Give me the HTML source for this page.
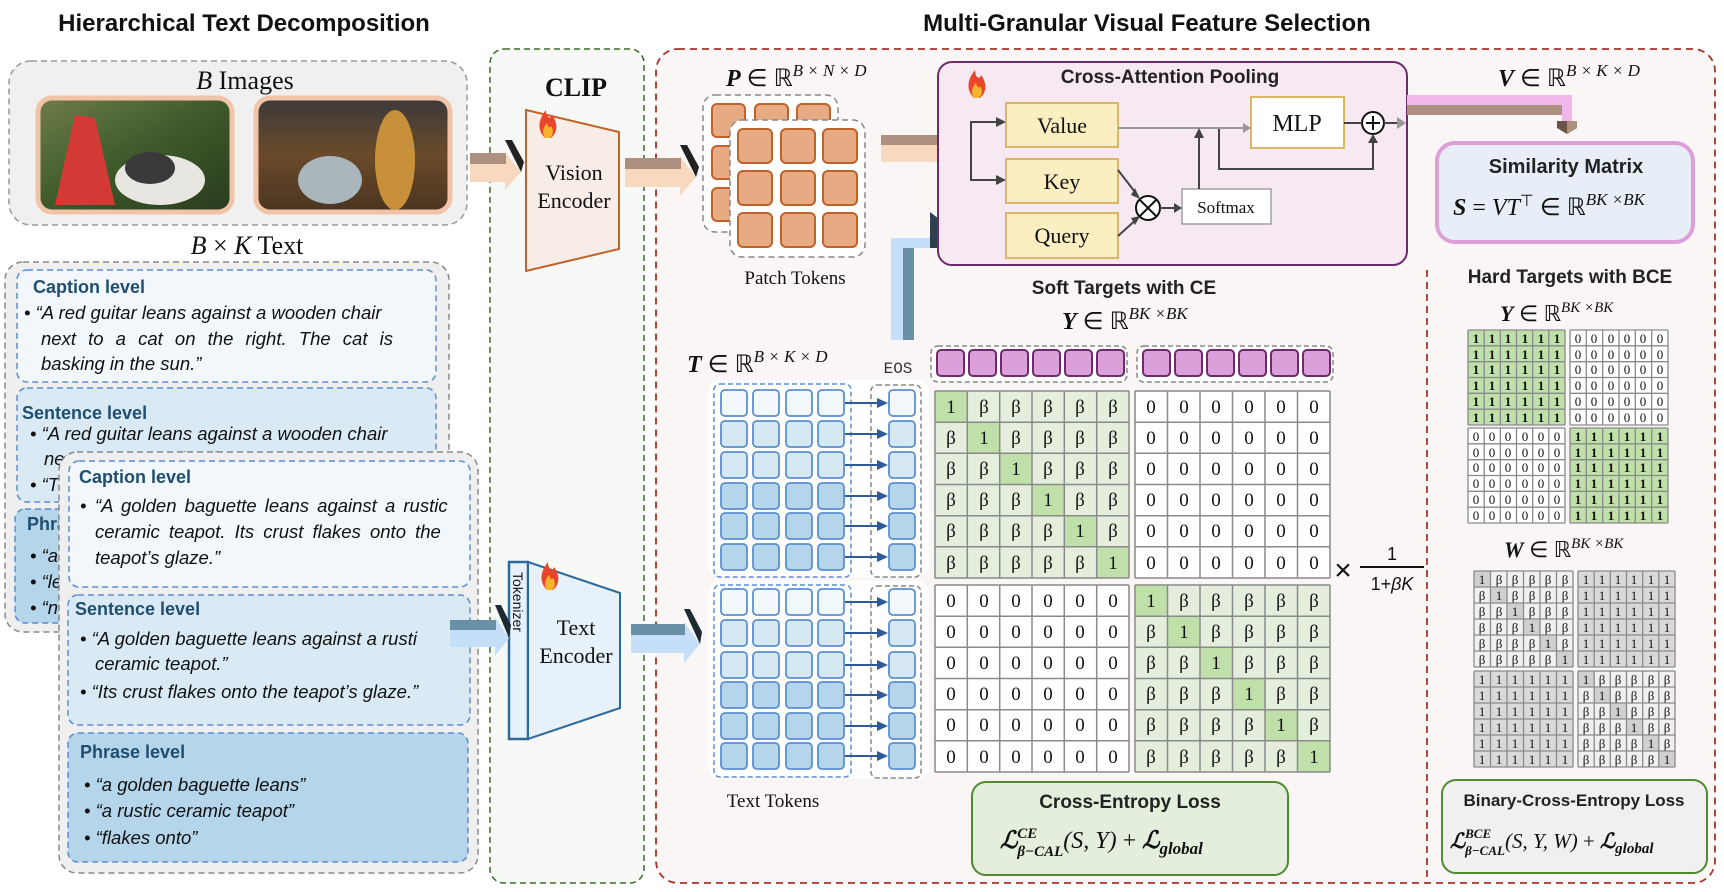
<!DOCTYPE html>
<html><head><meta charset="utf-8"><style>
html,body{margin:0;padding:0;background:#fff}
svg{display:block}
.t{font-family:"Liberation Sans",sans-serif}
.s{font-family:"Liberation Serif",serif}
.it{font-family:"Liberation Sans",sans-serif;font-style:italic;font-size:18.5px;fill:#111}
.lv{font-family:"Liberation Sans",sans-serif;font-weight:bold;font-size:18px;fill:#1f4e6e}
</style></head><body>
<svg width="1724" height="892" viewBox="0 0 1724 892" xmlns="http://www.w3.org/2000/svg">
<defs>
<linearGradient id="g1" x1="0" y1="0" x2="1" y2="1"><stop offset="0" stop-color="#6f7d4a"/><stop offset="0.5" stop-color="#3d5a2a"/><stop offset="1" stop-color="#2a3a1e"/></linearGradient>
<linearGradient id="g2" x1="0" y1="0" x2="0" y2="1"><stop offset="0" stop-color="#3a3a3a"/><stop offset="0.5" stop-color="#6a4a2a"/><stop offset="1" stop-color="#4a3420"/></linearGradient>
</defs>

<text x="244" y="31" text-anchor="middle" class="t" font-weight="bold" font-size="24" fill="#111">Hierarchical Text Decomposition</text>
<text x="1147" y="31" text-anchor="middle" class="t" font-weight="bold" font-size="24" fill="#111">Multi-Granular Visual Feature Selection</text>

<rect x="9" y="61" width="458" height="164" rx="22" fill="#f0f0f0" stroke="#999" stroke-width="1.5" stroke-dasharray="6,4"/>
<text x="245" y="89" text-anchor="middle" class="s" font-size="26" fill="#111"><tspan font-style="italic">B</tspan> Images</text>
<rect x="38" y="98" width="194" height="114" rx="14" fill="url(#g1)" stroke="#f1c4a8" stroke-width="5"/>
<path d="M55 205 L75 115 L95 118 L115 205 Z" fill="#d43a35"/>
<ellipse cx="160" cy="180" rx="45" ry="25" fill="#e8e6e0"/>
<ellipse cx="150" cy="168" rx="25" ry="16" fill="#3a3a3a"/>
<rect x="256" y="98" width="194" height="114" rx="14" fill="url(#g2)" stroke="#f1c4a8" stroke-width="5"/>
<ellipse cx="330" cy="180" rx="32" ry="24" fill="#a9b7bc"/>
<ellipse cx="395" cy="160" rx="20" ry="50" fill="#c8903a"/>
<text x="247" y="254" text-anchor="middle" class="s" font-size="26" fill="#111"><tspan font-style="italic">B</tspan> × <tspan font-style="italic">K</tspan>  Text</text>

<!-- back text box -->
<rect x="5" y="262" width="444" height="370" rx="18" fill="#efefef" stroke="#888" stroke-width="1.5" stroke-dasharray="6,4"/>
<rect x="17" y="270" width="419" height="112" rx="10" fill="#f2f7fc" stroke="#5b8fd0" stroke-width="1.5" stroke-dasharray="6,4"/>
<text x="33" y="293" class="lv">Caption level</text>
<text x="24" y="319" class="it">• “A red guitar leans against a wooden chair</text>
<text x="41" y="345" class="it" word-spacing="7">next to a cat on the right. The cat is</text>
<text x="41" y="370" class="it">basking in the sun.”</text>
<rect x="17" y="388" width="419" height="114" rx="10" fill="#d9eaf5" stroke="#5b8fd0" stroke-width="1.5" stroke-dasharray="6,4"/>
<text x="22" y="419" class="lv">Sentence level</text>
<text x="30" y="440" class="it">• “A red guitar leans against a wooden chair</text>
<text x="44" y="465" class="it">next to a cat on the right.”</text>
<text x="30" y="491" class="it">• “The cat is basking in the sun.”</text>
<rect x="15" y="509" width="419" height="114" rx="10" fill="#b4d5ea" stroke="#5b8fd0" stroke-width="1.5" stroke-dasharray="6,4"/>
<text x="27" y="530" class="lv">Phrase level</text>
<text x="30" y="562" class="it">• “a red guitar”</text>
<text x="30" y="588" class="it">• “leans against”</text>
<text x="30" y="614" class="it">• “next to a cat”</text>

<!-- front text box -->
<rect x="59" y="452" width="419" height="421" rx="18" fill="#efefef" stroke="#888" stroke-width="1.5" stroke-dasharray="6,4"/>
<rect x="69" y="461" width="401" height="126" rx="10" fill="#f2f7fc" stroke="#5b8fd0" stroke-width="1.5" stroke-dasharray="6,4"/>
<text x="79" y="483" class="lv">Caption level</text>
<text x="80" y="512" class="it">•</text>
<text x="95" y="512" class="it" word-spacing="3">“A golden baguette leans against a rustic</text>
<text x="95" y="538" class="it" word-spacing="4">ceramic teapot. Its crust flakes onto the</text>
<text x="95" y="564" class="it">teapot’s glaze.”</text>
<rect x="68" y="595" width="402" height="130" rx="10" fill="#d9eaf5" stroke="#5b8fd0" stroke-width="1.5" stroke-dasharray="6,4"/>
<text x="75" y="615" class="lv">Sentence level</text>
<text x="80" y="645" class="it">• “A golden baguette leans against a rusti</text>
<text x="95" y="670" class="it">ceramic teapot.”</text>
<text x="80" y="698" class="it">• “Its crust flakes onto the teapot’s glaze.”</text>
<rect x="68" y="733" width="400" height="129" rx="10" fill="#b4d5ea" stroke="#5b8fd0" stroke-width="1.5" stroke-dasharray="6,4"/>
<text x="80" y="758" class="lv">Phrase level</text>
<text x="84" y="791" class="it">• “a golden baguette leans”</text>
<text x="84" y="817" class="it">• “a rustic ceramic teapot”</text>
<text x="84" y="844" class="it">• “flakes onto”</text>

<!-- CLIP box -->
<rect x="490" y="49" width="154" height="834" rx="14" fill="#f6f9f5" stroke="#3a6a2a" stroke-width="1.5" stroke-dasharray="6,4"/>
<text x="576" y="96" text-anchor="middle" class="s" font-weight="bold" font-size="26" fill="#111">CLIP</text>
<polygon points="526,110 619,132 619,249 526,271" fill="#f8ece6" stroke="#c0622a" stroke-width="2"/>
<path d="M545 138 C537 130 538 120 546 110 C546 118 551 120 552 115 C558 123 558 132 551 138 Z" fill="#e8452a"/>
<path d="M545 138 C541 132 544 126 547 123 C548 128 551 128 551 126 C554 130 553 136 550 138 Z" fill="#f7b32b"/>
<text x="574" y="180" text-anchor="middle" class="s" font-size="22" fill="#111">Vision</text>
<text x="574" y="208" text-anchor="middle" class="s" font-size="22" fill="#111">Encoder</text>
<rect x="509" y="562" width="19" height="177" fill="#e6f1f9" stroke="#2e6a99" stroke-width="2.5"/>
<text transform="translate(513,572) rotate(90)" class="t" font-size="14" fill="#111">Tokenizer</text>
<polygon points="528,562 620,593 620,708 528,739" fill="#e6f1f9" stroke="#2e6a99" stroke-width="2"/>
<path d="M547 590 C539 582 540 572 548 562 C548 570 553 572 554 567 C560 575 560 584 553 590 Z" fill="#e8452a"/>
<path d="M547 590 C543 584 546 578 549 575 C550 580 553 580 553 578 C556 582 555 588 552 590 Z" fill="#f7b32b"/>
<text x="576" y="635" text-anchor="middle" class="s" font-size="22" fill="#111">Text</text>
<text x="576" y="663" text-anchor="middle" class="s" font-size="22" fill="#111">Encoder</text>

<!-- red box -->
<rect x="656" y="49" width="1059" height="834" rx="22" fill="#faf6f5" stroke="#a3352a" stroke-width="1.8" stroke-dasharray="7,5"/>
<line x1="1427" y1="270" x2="1427" y2="883" stroke="#a3352a" stroke-width="1.8" stroke-dasharray="7,5"/>

<g>
<polygon points="470,163 505,163 505,152 521,172 505,190 505,182 470,182" fill="#f8d9c0"/>
<rect x="470" y="153" width="36" height="11" fill="#ad9080"/>
<polygon points="505,140 512,140 524,162 521,172" fill="#222"/>
<polygon points="625,168 680,168 680,156 696,177 680,196 680,187 625,187" fill="#f8d9c0"/>
<rect x="625" y="158" width="56" height="11" fill="#ad9080"/>
<polygon points="680,145 687,145 699,167 696,177" fill="#222"/>
<polygon points="881,143 955,143 955,132 970,152 955,170 955,162 881,162" fill="#f8d9c0"/>
<rect x="881" y="135" width="75" height="10" fill="#ad9080"/>
<polygon points="955,128 961,128 972,145 970,152" fill="#222"/>
<polygon points="450,629 495,629 495,617 509,638 495,656 495,647 450,647" fill="#c5dff8"/>
<rect x="450" y="620" width="46" height="10" fill="#6a90a8"/>
<polygon points="495,605 501,605 511,625 509,638" fill="#1e2a33"/>
<polygon points="631,634 684,634 684,622 700,644 684,663 684,653 631,653" fill="#c5dff8"/>
<rect x="631" y="624" width="54" height="11" fill="#6a90a8"/>
<polygon points="684,609 690,609 702,632 700,644" fill="#1e2a33"/>
<rect x="891" y="238" width="12" height="102" fill="#c5dff8"/>
<rect x="903" y="238" width="11" height="102" fill="#6a90a8"/>
<polygon points="891,238 930,238 930,212 953,230 938,248 891,248" fill="#c5dff8"/>
<polygon points="930,212 953,230 938,248 930,248" fill="#2e3f4d"/>
</g>

<text x="726" y="86" class="s" font-size="24" fill="#111"><tspan font-weight="bold" font-style="italic">P</tspan> ∈ ℝ<tspan font-style="italic" font-size="17" dy="-10">B × N × D</tspan></text>
<rect x="703" y="95" width="135" height="137" rx="12" fill="#fff" stroke="#888" stroke-width="1.5" stroke-dasharray="6,4"/>
<g fill="#e7ab84" stroke="#c0622a" stroke-width="2">
<rect x="712" y="104" width="33" height="33" rx="5"/><rect x="755" y="104" width="33" height="33" rx="5"/><rect x="797" y="104" width="33" height="33" rx="5"/>
<rect x="712" y="146" width="33" height="33" rx="5"/><rect x="712" y="188" width="33" height="33" rx="5"/>
</g>
<rect x="730" y="120" width="135" height="137" rx="12" fill="#fff" stroke="#888" stroke-width="1.5" stroke-dasharray="6,4"/>
<g fill="#e7ab84" stroke="#c0622a" stroke-width="2">
<rect x="738" y="129" width="34" height="34" rx="5"/><rect x="781" y="129" width="34" height="34" rx="5"/><rect x="823" y="129" width="34" height="34" rx="5"/>
<rect x="738" y="171" width="34" height="34" rx="5"/><rect x="781" y="171" width="34" height="34" rx="5"/><rect x="823" y="171" width="34" height="34" rx="5"/>
<rect x="738" y="213" width="34" height="34" rx="5"/><rect x="781" y="213" width="34" height="34" rx="5"/><rect x="823" y="213" width="34" height="34" rx="5"/>
</g>
<text x="795" y="284" text-anchor="middle" class="s" font-size="19" fill="#111">Patch Tokens</text>

<rect x="938" y="62" width="469" height="203" rx="14" fill="#f6e9f2" stroke="#6d2a6d" stroke-width="2"/>
<path d="M974 98 C966 90 967 80 975 70 C975 78 980 80 981 75 C987 83 987 92 980 98 Z" fill="#e8452a"/>
<path d="M974 98 C970 92 973 86 976 83 C977 88 980 88 980 86 C983 90 982 96 979 98 Z" fill="#f7b32b"/>
<text x="1170" y="83" text-anchor="middle" class="t" font-weight="bold" font-size="19" fill="#222">Cross-Attention Pooling</text>
<g fill="#fbefc1" stroke="#d9b865" stroke-width="2">
<rect x="1006" y="103" width="112" height="44"/><rect x="1006" y="159" width="112" height="44"/><rect x="1006" y="213" width="112" height="45"/>
</g>
<g class="s" font-size="22" fill="#111" text-anchor="middle">
<text x="1062" y="133">Value</text><text x="1062" y="189">Key</text><text x="1062" y="243">Query</text>
</g>
<rect x="1251" y="97" width="93" height="51" fill="#fff" stroke="#d9b865" stroke-width="2"/>
<text x="1297" y="131" text-anchor="middle" class="s" font-size="24" fill="#111">MLP</text>
<rect x="1182" y="189" width="89" height="35" fill="#fff" stroke="#777" stroke-width="1"/>
<text x="1226" y="213" text-anchor="middle" class="s" font-size="17" fill="#111">Softmax</text>
<circle cx="1148" cy="208" r="12" fill="#fff" stroke="#111" stroke-width="2"/>
<path d="M1140 200 L1156 216 M1156 200 L1140 216" stroke="#111" stroke-width="2"/>
<circle cx="1373" cy="123" r="11" fill="#fff" stroke="#111" stroke-width="2"/>
<path d="M1366 123 H1380 M1373 116 V130" stroke="#111" stroke-width="2"/>
<g stroke="#444" stroke-width="2" fill="none">
<path d="M971 147 V122 H1000 M971 147 V180 H1000"/>
<path d="M1118 170 L1138 196 M1118 236 L1138 218"/>
<path d="M1160 208 H1176"/>
<path d="M1199 189 V134"/>
<path d="M1219 128 V169 H1373 V138"/>
<path d="M1344 123 H1362 M1384 123 H1398"/>
</g>
<path d="M1118 128 H1244" stroke="#999" stroke-width="2"/>
<g fill="#444">
<polygon points="1006,122 996,117 996,127"/><polygon points="1006,180 996,175 996,185"/>
<polygon points="1140,199 1131,195 1135,188"/><polygon points="1140,216 1135,225 1131,218"/>
<polygon points="1182,208 1174,203 1174,213"/><polygon points="1199,128 1194,138 1204,138"/>
<polygon points="1373,134 1368,143 1378,143"/>
</g>
<polygon points="1251,128 1243,123 1243,133" fill="#999"/>
<polygon points="1406,123 1397,117 1397,129" fill="#999"/>

<text x="1498" y="86" class="s" font-size="24" fill="#111"><tspan font-weight="bold" font-style="italic">V</tspan> ∈ ℝ<tspan font-style="italic" font-size="17" dy="-10">B × K × D</tspan></text>
<rect x="1407" y="95" width="165" height="10" fill="#f0b8ea"/>
<rect x="1407" y="105" width="155" height="10" fill="#ad9080"/>
<rect x="1562" y="95" width="10" height="26" fill="#f0b8ea"/>
<polygon points="1557,121 1577,121 1577,128 1567,134 1557,128" fill="#6b5345"/>
<polygon points="1567,121 1577,121 1577,128 1567,134" fill="#ad9080"/>
<rect x="1437" y="143" width="256" height="99" rx="18" fill="#e8eef8" stroke="#dc9fd8" stroke-width="4"/>
<text x="1566" y="173" text-anchor="middle" class="t" font-weight="bold" font-size="20" fill="#222">Similarity Matrix</text>
<text x="1453" y="215" class="s" font-size="24" fill="#111"><tspan font-weight="bold" font-style="italic">S</tspan> =  <tspan font-style="italic">VT</tspan><tspan font-size="16" dy="-9">⊤</tspan><tspan dy="9"> ∈ ℝ</tspan><tspan font-style="italic" font-size="17" dy="-10">BK ×BK</tspan></text>

<text x="687" y="372" class="s" font-size="24" fill="#111"><tspan font-weight="bold" font-style="italic">T</tspan> ∈ ℝ<tspan font-style="italic" font-size="17" dy="-10">B × K × D</tspan></text>
<text x="898" y="373" text-anchor="middle" font-size="16" fill="#333" font-family="Liberation Mono">EOS</text>
<rect x="708" y="380" width="221" height="197" rx="12" fill="#fff"/>
<rect x="708" y="581" width="221" height="198" rx="12" fill="#fff"/>
<rect x="714" y="384" width="137" height="193" rx="6" fill="none" stroke="#5b8fd0" stroke-width="1.5" stroke-dasharray="5,3"/>
<rect x="714" y="585" width="137" height="192" rx="6" fill="none" stroke="#5b8fd0" stroke-width="1.5" stroke-dasharray="5,3"/>
<rect x="871" y="385" width="50" height="192" rx="6" fill="none" stroke="#888" stroke-width="1.5" stroke-dasharray="5,3"/>
<rect x="871" y="586" width="50" height="192" rx="6" fill="none" stroke="#888" stroke-width="1.5" stroke-dasharray="5,3"/>
<g stroke="#5b8fd0" stroke-width="1.8">
<g fill="#f2f7fc"><rect x="721" y="390" width="26" height="26" rx="4"/><rect x="753" y="390" width="26" height="26" rx="4"/><rect x="786" y="390" width="26" height="26" rx="4"/><rect x="818" y="390" width="26" height="26" rx="4"/><rect x="889" y="390" width="26" height="26" rx="4"/>
<rect x="721" y="589" width="26" height="26" rx="4"/><rect x="753" y="589" width="26" height="26" rx="4"/><rect x="786" y="589" width="26" height="26" rx="4"/><rect x="818" y="589" width="26" height="26" rx="4"/><rect x="889" y="589" width="26" height="26" rx="4"/></g>
<g fill="#d6e8f4"><rect x="721" y="421" width="26" height="26" rx="4"/><rect x="753" y="421" width="26" height="26" rx="4"/><rect x="786" y="421" width="26" height="26" rx="4"/><rect x="818" y="421" width="26" height="26" rx="4"/><rect x="889" y="421" width="26" height="26" rx="4"/>
<rect x="721" y="452" width="26" height="26" rx="4"/><rect x="753" y="452" width="26" height="26" rx="4"/><rect x="786" y="452" width="26" height="26" rx="4"/><rect x="818" y="452" width="26" height="26" rx="4"/><rect x="889" y="452" width="26" height="26" rx="4"/>
<rect x="721" y="620" width="26" height="26" rx="4"/><rect x="753" y="620" width="26" height="26" rx="4"/><rect x="786" y="620" width="26" height="26" rx="4"/><rect x="818" y="620" width="26" height="26" rx="4"/><rect x="889" y="620" width="26" height="26" rx="4"/>
<rect x="721" y="652" width="26" height="26" rx="4"/><rect x="753" y="652" width="26" height="26" rx="4"/><rect x="786" y="652" width="26" height="26" rx="4"/><rect x="818" y="652" width="26" height="26" rx="4"/><rect x="889" y="652" width="26" height="26" rx="4"/></g>
<g fill="#b4d5ea"><rect x="721" y="483" width="26" height="26" rx="4"/><rect x="753" y="483" width="26" height="26" rx="4"/><rect x="786" y="483" width="26" height="26" rx="4"/><rect x="818" y="483" width="26" height="26" rx="4"/><rect x="889" y="483" width="26" height="26" rx="4"/>
<rect x="721" y="513" width="26" height="26" rx="4"/><rect x="753" y="513" width="26" height="26" rx="4"/><rect x="786" y="513" width="26" height="26" rx="4"/><rect x="818" y="513" width="26" height="26" rx="4"/><rect x="889" y="513" width="26" height="26" rx="4"/>
<rect x="721" y="544" width="26" height="26" rx="4"/><rect x="753" y="544" width="26" height="26" rx="4"/><rect x="786" y="544" width="26" height="26" rx="4"/><rect x="818" y="544" width="26" height="26" rx="4"/><rect x="889" y="544" width="26" height="26" rx="4"/>
<rect x="721" y="682" width="26" height="26" rx="4"/><rect x="753" y="682" width="26" height="26" rx="4"/><rect x="786" y="682" width="26" height="26" rx="4"/><rect x="818" y="682" width="26" height="26" rx="4"/><rect x="889" y="682" width="26" height="26" rx="4"/>
<rect x="721" y="713" width="26" height="26" rx="4"/><rect x="753" y="713" width="26" height="26" rx="4"/><rect x="786" y="713" width="26" height="26" rx="4"/><rect x="818" y="713" width="26" height="26" rx="4"/><rect x="889" y="713" width="26" height="26" rx="4"/>
<rect x="721" y="743" width="26" height="26" rx="4"/><rect x="753" y="743" width="26" height="26" rx="4"/><rect x="786" y="743" width="26" height="26" rx="4"/><rect x="818" y="743" width="26" height="26" rx="4"/><rect x="889" y="743" width="26" height="26" rx="4"/></g>
</g>
<g stroke="#2e5a99" stroke-width="2"><path d="M845 403 H878 M845 434 H878 M845 465 H878 M845 496 H878 M845 526 H878 M845 557 H878 M845 602 H878 M845 633 H878 M845 665 H878 M845 695 H878 M845 726 H878 M845 756 H878"/></g>
<g fill="#2e5a99">
<polygon points="888,403 877,398 877,408"/><polygon points="888,434 877,429 877,439"/><polygon points="888,465 877,460 877,470"/><polygon points="888,496 877,491 877,501"/><polygon points="888,526 877,521 877,531"/><polygon points="888,557 877,552 877,562"/>
<polygon points="888,602 877,597 877,607"/><polygon points="888,633 877,628 877,638"/><polygon points="888,665 877,660 877,670"/><polygon points="888,695 877,690 877,700"/><polygon points="888,726 877,721 877,731"/><polygon points="888,756 877,751 877,761"/>
</g>
<text x="773" y="807" text-anchor="middle" class="s" font-size="19" fill="#111">Text Tokens</text>

<text x="1124" y="294" text-anchor="middle" class="t" font-weight="bold" font-size="19" fill="#222">Soft Targets with CE</text>
<text x="1062" y="329" class="s" font-size="24" fill="#111"><tspan font-weight="bold" font-style="italic">Y</tspan> ∈ ℝ<tspan font-style="italic" font-size="17" dy="-10">BK ×BK</tspan></text>
<rect x="931" y="346" width="196" height="36" rx="7" fill="#fff" stroke="#888" stroke-width="1.5" stroke-dasharray="5,3"/>
<rect x="1137" y="346" width="196" height="36" rx="7" fill="#fff" stroke="#888" stroke-width="1.5" stroke-dasharray="5,3"/>
<g fill="#dba0da" stroke="#6d2a6d" stroke-width="2">
<rect x="937" y="350" width="27" height="26" rx="4"/><rect x="969" y="350" width="27" height="26" rx="4"/><rect x="1001" y="350" width="27" height="26" rx="4"/><rect x="1033" y="350" width="27" height="26" rx="4"/><rect x="1065" y="350" width="27" height="26" rx="4"/><rect x="1097" y="350" width="27" height="26" rx="4"/>
<rect x="1143" y="350" width="27" height="26" rx="4"/><rect x="1175" y="350" width="27" height="26" rx="4"/><rect x="1207" y="350" width="27" height="26" rx="4"/><rect x="1239" y="350" width="27" height="26" rx="4"/><rect x="1271" y="350" width="27" height="26" rx="4"/><rect x="1303" y="350" width="27" height="26" rx="4"/>
</g>
<rect x="935" y="391" width="194" height="187" fill="#e3efdc"/>
<rect x="1135" y="391" width="195" height="187" fill="#fff"/>
<rect x="935" y="585" width="194" height="187" fill="#fff"/>
<rect x="1135" y="585" width="195" height="187" fill="#e3efdc"/>
<g fill="#bfe0a8">
<rect x="935" y="391" width="32.3" height="31.2"/><rect x="967.3" y="422.2" width="32.3" height="31.2"/><rect x="999.7" y="453.3" width="32.3" height="31.2"/><rect x="1032" y="484.5" width="32.3" height="31.2"/><rect x="1064.3" y="515.7" width="32.3" height="31.2"/><rect x="1096.7" y="546.8" width="32.3" height="31.2"/>
<rect x="1135" y="585" width="32.5" height="31.2"/><rect x="1167.5" y="616.2" width="32.5" height="31.2"/><rect x="1200" y="647.3" width="32.5" height="31.2"/><rect x="1232.5" y="678.5" width="32.5" height="31.2"/><rect x="1265" y="709.7" width="32.5" height="31.2"/><rect x="1297.5" y="740.8" width="32.5" height="31.2"/>
</g>
<g stroke="#8a8a8a" stroke-width="1.5" fill="none">
<path d="M935 391 V578 M967.3 391 V578 M999.7 391 V578 M1032 391 V578 M1064.3 391 V578 M1096.7 391 V578 M1129 391 V578 M935 391 H1129 M935 422.2 H1129 M935 453.3 H1129 M935 484.5 H1129 M935 515.7 H1129 M935 546.8 H1129 M935 578 H1129"/>
<path d="M935 585 V772 M967.3 585 V772 M999.7 585 V772 M1032 585 V772 M1064.3 585 V772 M1096.7 585 V772 M1129 585 V772 M935 585 H1129 M935 616.2 H1129 M935 647.3 H1129 M935 678.5 H1129 M935 709.7 H1129 M935 740.8 H1129 M935 772 H1129"/>
<path d="M1135 391 V578 M1167.5 391 V578 M1200 391 V578 M1232.5 391 V578 M1265 391 V578 M1297.5 391 V578 M1330 391 V578 M1135 391 H1330 M1135 422.2 H1330 M1135 453.3 H1330 M1135 484.5 H1330 M1135 515.7 H1330 M1135 546.8 H1330 M1135 578 H1330"/>
<path d="M1135 585 V772 M1167.5 585 V772 M1200 585 V772 M1232.5 585 V772 M1265 585 V772 M1297.5 585 V772 M1330 585 V772 M1135 585 H1330 M1135 616.2 H1330 M1135 647.3 H1330 M1135 678.5 H1330 M1135 709.7 H1330 M1135 740.8 H1330 M1135 772 H1330"/>
</g>
<g class="s" font-size="19" fill="#111" text-anchor="middle">
<text x="951 984 1016 1048 1080 1113" y="413">1βββββ</text>
<text x="951 984 1016 1048 1080 1113" y="444">β1ββββ</text>
<text x="951 984 1016 1048 1080 1113" y="475">ββ1βββ</text>
<text x="951 984 1016 1048 1080 1113" y="506">βββ1ββ</text>
<text x="951 984 1016 1048 1080 1113" y="537">ββββ1β</text>
<text x="951 984 1016 1048 1080 1113" y="569">βββββ1</text>
<text x="1151 1184 1216 1249 1281 1314" y="607">1βββββ</text>
<text x="1151 1184 1216 1249 1281 1314" y="638">β1ββββ</text>
<text x="1151 1184 1216 1249 1281 1314" y="669">ββ1βββ</text>
<text x="1151 1184 1216 1249 1281 1314" y="700">βββ1ββ</text>
<text x="1151 1184 1216 1249 1281 1314" y="731">ββββ1β</text>
<text x="1151 1184 1216 1249 1281 1314" y="763">βββββ1</text>
<text x="1151 1184 1216 1249 1281 1314" y="413">000000</text>
<text x="1151 1184 1216 1249 1281 1314" y="444">000000</text>
<text x="1151 1184 1216 1249 1281 1314" y="475">000000</text>
<text x="1151 1184 1216 1249 1281 1314" y="506">000000</text>
<text x="1151 1184 1216 1249 1281 1314" y="537">000000</text>
<text x="1151 1184 1216 1249 1281 1314" y="569">000000</text>
<text x="951 984 1016 1048 1080 1113" y="607">000000</text>
<text x="951 984 1016 1048 1080 1113" y="638">000000</text>
<text x="951 984 1016 1048 1080 1113" y="669">000000</text>
<text x="951 984 1016 1048 1080 1113" y="700">000000</text>
<text x="951 984 1016 1048 1080 1113" y="731">000000</text>
<text x="951 984 1016 1048 1080 1113" y="763">000000</text>
</g>
<text x="1343" y="580" text-anchor="middle" class="t" font-size="30" fill="#111">×</text>
<text x="1392" y="560" text-anchor="middle" class="t" font-size="18" fill="#111">1</text>
<line x1="1360" y1="567" x2="1424" y2="567" stroke="#111" stroke-width="2"/>
<text x="1392" y="590" text-anchor="middle" class="t" font-size="18" fill="#111">1+<tspan font-style="italic">βK</tspan></text>

<rect x="972" y="782" width="316" height="93" rx="14" fill="#e3efdc" stroke="#4f8a30" stroke-width="2"/>
<text x="1130" y="808" text-anchor="middle" class="t" font-weight="bold" font-size="19" fill="#222">Cross-Entropy Loss</text>
<text x="1000" y="848" class="s" font-size="24" fill="#111"><tspan font-weight="bold" font-style="italic">ℒ</tspan><tspan font-weight="bold" font-style="italic" font-size="15" dy="-10">CE</tspan><tspan font-weight="bold" font-style="italic" font-size="15" dx="-20" dy="18">β−CAL</tspan><tspan font-style="italic" dy="-8">(S, Y)</tspan> + <tspan font-weight="bold" font-style="italic">ℒ</tspan><tspan font-weight="bold" font-style="italic" font-size="17" dy="6">global</tspan></text>

<text x="1570" y="283" text-anchor="middle" class="t" font-weight="bold" font-size="19" fill="#222">Hard Targets with BCE</text>
<text x="1500" y="321" class="s" font-size="22" fill="#111"><tspan font-weight="bold" font-style="italic">Y</tspan> ∈ ℝ<tspan font-style="italic" font-size="15" dy="-9">BK ×BK</tspan></text>
<rect x="1468" y="330" width="97" height="95" fill="#bfe0a8"/>
<rect x="1570" y="330" width="98" height="95" fill="#fff"/>
<rect x="1468" y="428" width="97" height="95" fill="#fff"/>
<rect x="1570" y="428" width="98" height="95" fill="#bfe0a8"/>
<g stroke="#8a8a8a" stroke-width="1.3" fill="none">
<path d="M1468 330 V425 M1484.2 330 V425 M1500.3 330 V425 M1516.5 330 V425 M1532.7 330 V425 M1548.8 330 V425 M1565 330 V425 M1468 330 H1565 M1468 345.8 H1565 M1468 361.7 H1565 M1468 377.5 H1565 M1468 393.3 H1565 M1468 409.2 H1565 M1468 425 H1565"/>
<path d="M1570 330 V425 M1586.3 330 V425 M1602.7 330 V425 M1619 330 V425 M1635.3 330 V425 M1651.7 330 V425 M1668 330 V425 M1570 330 H1668 M1570 345.8 H1668 M1570 361.7 H1668 M1570 377.5 H1668 M1570 393.3 H1668 M1570 409.2 H1668 M1570 425 H1668"/>
<path d="M1468 428 V523 M1484.2 428 V523 M1500.3 428 V523 M1516.5 428 V523 M1532.7 428 V523 M1548.8 428 V523 M1565 428 V523 M1468 428 H1565 M1468 443.8 H1565 M1468 459.7 H1565 M1468 475.5 H1565 M1468 491.3 H1565 M1468 507.2 H1565 M1468 523 H1565"/>
<path d="M1570 428 V523 M1586.3 428 V523 M1602.7 428 V523 M1619 428 V523 M1635.3 428 V523 M1651.7 428 V523 M1668 428 V523 M1570 428 H1668 M1570 443.8 H1668 M1570 459.7 H1668 M1570 475.5 H1668 M1570 491.3 H1668 M1570 507.2 H1668 M1570 523 H1668"/>
</g>
<g class="s" font-size="13" fill="#111" text-anchor="middle">
<g font-weight="bold">
<text x="1476 1492 1508 1525 1541 1557" y="343">111111</text><text x="1476 1492 1508 1525 1541 1557" y="359">111111</text><text x="1476 1492 1508 1525 1541 1557" y="374">111111</text><text x="1476 1492 1508 1525 1541 1557" y="390">111111</text><text x="1476 1492 1508 1525 1541 1557" y="406">111111</text><text x="1476 1492 1508 1525 1541 1557" y="422">111111</text>
<text x="1578 1594 1611 1627 1643 1660" y="441">111111</text><text x="1578 1594 1611 1627 1643 1660" y="457">111111</text><text x="1578 1594 1611 1627 1643 1660" y="472">111111</text><text x="1578 1594 1611 1627 1643 1660" y="488">111111</text><text x="1578 1594 1611 1627 1643 1660" y="504">111111</text><text x="1578 1594 1611 1627 1643 1660" y="520">111111</text>
</g>
<text x="1578 1594 1611 1627 1643 1660" y="343">000000</text><text x="1578 1594 1611 1627 1643 1660" y="359">000000</text><text x="1578 1594 1611 1627 1643 1660" y="374">000000</text><text x="1578 1594 1611 1627 1643 1660" y="390">000000</text><text x="1578 1594 1611 1627 1643 1660" y="406">000000</text><text x="1578 1594 1611 1627 1643 1660" y="422">000000</text>
<text x="1476 1492 1508 1525 1541 1557" y="441">000000</text><text x="1476 1492 1508 1525 1541 1557" y="457">000000</text><text x="1476 1492 1508 1525 1541 1557" y="472">000000</text><text x="1476 1492 1508 1525 1541 1557" y="488">000000</text><text x="1476 1492 1508 1525 1541 1557" y="504">000000</text><text x="1476 1492 1508 1525 1541 1557" y="520">000000</text>
</g>

<text x="1504" y="557" class="s" font-size="22" fill="#111"><tspan font-weight="bold" font-style="italic">W</tspan> ∈ ℝ<tspan font-style="italic" font-size="15" dy="-9">BK ×BK</tspan></text>
<rect x="1474" y="571" width="99" height="96" fill="#f0f0f0"/>
<rect x="1578" y="571" width="97" height="96" fill="#d9d9d9"/>
<rect x="1474" y="671" width="99" height="96" fill="#d9d9d9"/>
<rect x="1578" y="671" width="97" height="96" fill="#f0f0f0"/>
<g fill="#d0d0d0">
<rect x="1474" y="571" width="16.5" height="16"/><rect x="1490.5" y="587" width="16.5" height="16"/><rect x="1507" y="603" width="16.5" height="16"/><rect x="1523.5" y="619" width="16.5" height="16"/><rect x="1540" y="635" width="16.5" height="16"/><rect x="1556.5" y="651" width="16.5" height="16"/>
<rect x="1578" y="671" width="16.2" height="16"/><rect x="1594.2" y="687" width="16.2" height="16"/><rect x="1610.3" y="703" width="16.2" height="16"/><rect x="1626.5" y="719" width="16.2" height="16"/><rect x="1642.7" y="735" width="16.2" height="16"/><rect x="1658.8" y="751" width="16.2" height="16"/>
</g>
<g stroke="#8a8a8a" stroke-width="1.3" fill="none">
<path d="M1474 571 V667 M1490.5 571 V667 M1507 571 V667 M1523.5 571 V667 M1540 571 V667 M1556.5 571 V667 M1573 571 V667 M1474 571 H1573 M1474 587 H1573 M1474 603 H1573 M1474 619 H1573 M1474 635 H1573 M1474 651 H1573 M1474 667 H1573"/>
<path d="M1578 571 V667 M1594.2 571 V667 M1610.3 571 V667 M1626.5 571 V667 M1642.7 571 V667 M1658.8 571 V667 M1675 571 V667 M1578 571 H1675 M1578 587 H1675 M1578 603 H1675 M1578 619 H1675 M1578 635 H1675 M1578 651 H1675 M1578 667 H1675"/>
<path d="M1474 671 V767 M1490.5 671 V767 M1507 671 V767 M1523.5 671 V767 M1540 671 V767 M1556.5 671 V767 M1573 671 V767 M1474 671 H1573 M1474 687 H1573 M1474 703 H1573 M1474 719 H1573 M1474 735 H1573 M1474 751 H1573 M1474 767 H1573"/>
<path d="M1578 671 V767 M1594.2 671 V767 M1610.3 671 V767 M1626.5 671 V767 M1642.7 671 V767 M1658.8 671 V767 M1675 671 V767 M1578 671 H1675 M1578 687 H1675 M1578 703 H1675 M1578 719 H1675 M1578 735 H1675 M1578 751 H1675 M1578 767 H1675"/>
</g>
<g class="s" font-size="13" fill="#111" text-anchor="middle">
<text x="1482 1499 1515 1532 1548 1565" y="584">1βββββ</text><text x="1482 1499 1515 1532 1548 1565" y="600">β1ββββ</text><text x="1482 1499 1515 1532 1548 1565" y="616">ββ1βββ</text><text x="1482 1499 1515 1532 1548 1565" y="632">βββ1ββ</text><text x="1482 1499 1515 1532 1548 1565" y="648">ββββ1β</text><text x="1482 1499 1515 1532 1548 1565" y="664">βββββ1</text>
<text x="1586 1602 1618 1634 1651 1667" y="584">111111</text><text x="1586 1602 1618 1634 1651 1667" y="600">111111</text><text x="1586 1602 1618 1634 1651 1667" y="616">111111</text><text x="1586 1602 1618 1634 1651 1667" y="632">111111</text><text x="1586 1602 1618 1634 1651 1667" y="648">111111</text><text x="1586 1602 1618 1634 1651 1667" y="664">111111</text>
<text x="1482 1499 1515 1532 1548 1565" y="684">111111</text><text x="1482 1499 1515 1532 1548 1565" y="700">111111</text><text x="1482 1499 1515 1532 1548 1565" y="716">111111</text><text x="1482 1499 1515 1532 1548 1565" y="732">111111</text><text x="1482 1499 1515 1532 1548 1565" y="748">111111</text><text x="1482 1499 1515 1532 1548 1565" y="764">111111</text>
<text x="1586 1602 1618 1634 1651 1667" y="684">1βββββ</text><text x="1586 1602 1618 1634 1651 1667" y="700">β1ββββ</text><text x="1586 1602 1618 1634 1651 1667" y="716">ββ1βββ</text><text x="1586 1602 1618 1634 1651 1667" y="732">βββ1ββ</text><text x="1586 1602 1618 1634 1651 1667" y="748">ββββ1β</text><text x="1586 1602 1618 1634 1651 1667" y="764">βββββ1</text>
</g>

<rect x="1442" y="780" width="265" height="93" rx="14" fill="#f0f0f0" stroke="#4f8a30" stroke-width="2"/>
<text x="1574" y="806" text-anchor="middle" class="t" font-weight="bold" font-size="17" fill="#222">Binary-Cross-Entropy Loss</text>
<text x="1450" y="848" class="s" font-size="21" fill="#111"><tspan font-weight="bold" font-style="italic">ℒ</tspan><tspan font-weight="bold" font-style="italic" font-size="13" dy="-10">BCE</tspan><tspan font-weight="bold" font-style="italic" font-size="13" dx="-26" dy="17">β−CAL</tspan><tspan font-style="italic" dy="-7">(S, Y, W)</tspan> + <tspan font-weight="bold" font-style="italic">ℒ</tspan><tspan font-weight="bold" font-style="italic" font-size="15" dy="5">global</tspan></text>
</svg>
</body></html>
